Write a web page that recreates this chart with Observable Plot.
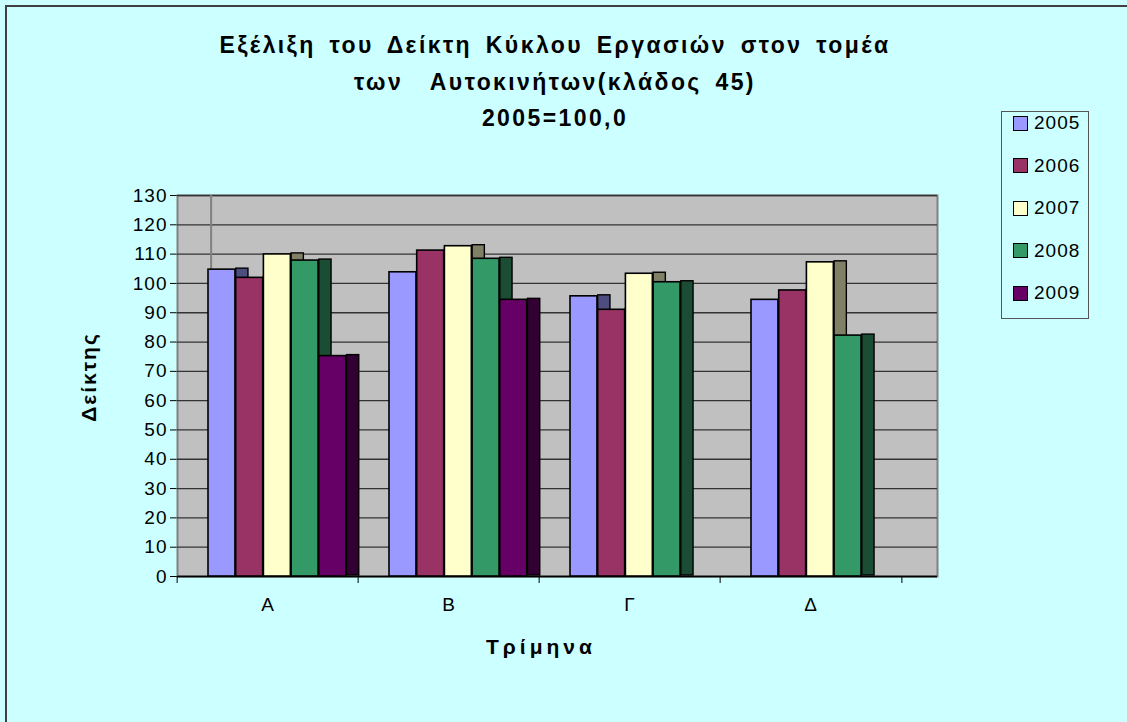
<!DOCTYPE html>
<html>
<head>
<meta charset="utf-8">
<script src="https://cdn.jsdelivr.net/npm/d3@7"></script>
<script src="https://cdn.jsdelivr.net/npm/@observablehq/plot@0.6"></script>
<style>
  html, body { margin:0; padding:0; }
  body { width:1127px; height:722px; background:#CCFFFF; position:relative; overflow:hidden;
         font-family:"Liberation Sans", Arial, sans-serif; }
  #border { position:absolute; left:5px; top:5px; width:1140px; height:740px; border:2px solid #404040; box-sizing:border-box; }
  #title { position:absolute; left:0; top:27px; width:1110px; text-align:center; font-weight:bold;
           font-size:23px; line-height:36.5px; letter-spacing:2.4px; word-spacing:5px; color:#000; white-space:pre; }
  #chart { position:absolute; left:0; top:0; }
  #ylabel { position:absolute; left:89px; top:377px; transform:translate(-50%,-50%) rotate(-90deg);
            font-weight:bold; font-size:21px; letter-spacing:2px; white-space:nowrap; }
  #xlabel { position:absolute; left:541px; top:647px; transform:translate(-50%,-50%);
            font-weight:bold; font-size:21px; letter-spacing:4px; white-space:nowrap; }
  #legend { position:absolute; left:1001px; top:111px; width:88px; height:208px; border:1px solid #555;
            box-sizing:border-box; background:#CCFFFF; }
  .item { position:absolute; left:11px; height:20px; display:flex; align-items:center; font-size:19px; letter-spacing:1px; }
  .sw { width:13px; height:13px; border:1.5px solid #000; margin-right:6px; }
</style>
</head>
<body>
<div id="border"></div>
<div id="title">Εξέλιξη του Δείκτη Κύκλου Εργασιών στον τομέα
των  Αυτοκινήτων(κλάδος 45)
2005=100,0</div>
<div id="chart"></div>
<div id="ylabel">Δείκτης</div>
<div id="xlabel">Τρίμηνα</div>
<div id="legend"></div>
<script>
const categories = ["Α", "Β", "Γ", "Δ"];
const years = ["2005", "2006", "2007", "2008", "2009"];
const v2005 = [104.7, 103.8, 95.6, 94.4];
const v2006 = [101.9, 111.2, 91.0, 97.6];
const v2007 = [109.9, 112.7, 103.3, 107.2];
const v2008 = [107.8, 108.4, 100.4, 82.2];
const v2009 = [75.2, 94.4, null, null];
const yTicks = [0, 10, 20, 30, 40, 50, 60, 70, 80, 90, 100, 110, 120, 130];
const colors = ["#9999FF", "#993366", "#FFFFCC", "#339966", "#660066"];
const sideColors = ["#4D4D80", "#4D1A33", "#808066", "#1A4D33", "#330033"];

const series = [v2005, v2006, v2007, v2008, v2009];
const rows = series.map((vals, i) =>
  categories.map((c, j) => ({cat: c, year: years[i], value: vals[j]})).filter(d => d.value != null));

// layout (pixels)
const band = 181.75, off = 31, bw = 27.7, depth = 13;

const marks = [
  Plot.frame({fill: "#c0c0c0", stroke: "#808080", strokeWidth: 2}),
  Plot.ruleY(yTicks, {stroke: "#333", strokeWidth: 1.3}),
  Plot.ruleX([categories[0]], {x: d => d, dx: -(band / 2 - 34), stroke: "#808080", strokeWidth: 2}),
  Plot.ruleY([0], {stroke: "#000", strokeWidth: 1.5}),
  Plot.ruleX(categories, {x: d => d, dx: -band / 2, y1: 0, y2: 0, insetBottom: -7, stroke: "#000"}),
  Plot.ruleX([categories[categories.length - 1]], {x: d => d, dx: band / 2, y1: 0, y2: 0, insetBottom: -7, stroke: "#000"})
];
rows.forEach((r, i) => {
  marks.push(Plot.barY(r, {
    x: "cat", y: "value", fill: sideColors[i], stroke: "#000", strokeWidth: 1.4, dy: -1,
    insetLeft: off + bw * (i + 1), insetRight: band - off - bw * (i + 1) - depth
  }));
});
rows.forEach((r, i) => {
  marks.push(Plot.barY(r, {
    x: "cat", y: "value", fill: colors[i], stroke: "#000", strokeWidth: 1.6,
    insetLeft: off + bw * i, insetRight: band - off - bw * (i + 1)
  }));
});

const plot = Plot.plot({
  width: 1127,
  height: 722,
  marginLeft: 177,
  marginRight: 190,
  marginTop: 195,
  marginBottom: 146,
  style: {background: "transparent", fontSize: "19px", fontFamily: "'Liberation Sans', Arial, sans-serif", color: "#000", letterSpacing: "1px"},
  x: {domain: categories, paddingInner: 0, paddingOuter: (760 / band - 4) / 2, align: 0, tickSize: 0, tickPadding: 21, label: null},
  y: {domain: [0, 130], ticks: yTicks, tickFormat: d => String(d), tickSize: 7, tickPadding: 3, line: true, label: null},
  marks
});
document.getElementById("chart").appendChild(plot);

const legend = document.getElementById("legend");
years.forEach((y, i) => {
  const it = document.createElement("div");
  it.className = "item";
  it.style.top = (1 + 42.5 * i) + "px";
  const sw = document.createElement("div");
  sw.className = "sw";
  sw.style.background = colors[i];
  const t = document.createElement("span");
  t.textContent = y;
  it.appendChild(sw); it.appendChild(t);
  legend.appendChild(it);
});
</script>
</body>
</html>
